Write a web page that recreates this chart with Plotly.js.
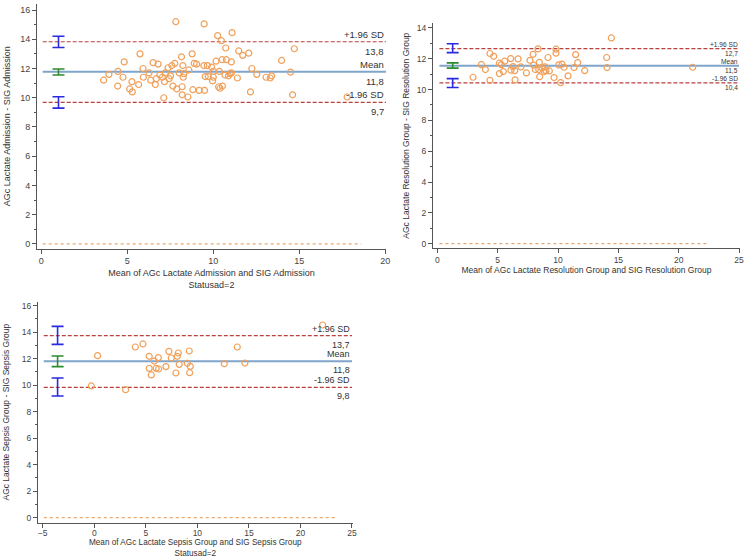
<!DOCTYPE html>
<html>
<head>
<meta charset="utf-8">
<script src="https://cdn.plot.ly/plotly-3.0.1.min.js"></script>
<style>html,body{margin:0;padding:0;background:#fff;}#chart{width:747px;height:559px;}</style>
</head>
<body>
<div id="chart"></div>
<script>
// ---------- Panel 1: Admission ----------
var p1x = [3.62,3.93,4.46,4.44,4.75,4.82,5.14,5.27,5.29,5.66,5.74,5.91,5.93,6.26,6.36,6.5,6.63,6.69,6.79,6.89,7.04,7.12,7.16,7.22,7.37,7.43,7.51,7.59,7.65,7.76,7.82,7.88,8.02,8.15,8.19,8.19,8.23,8.25,8.29,8.52,8.58,8.77,8.81,8.89,9.03,9.18,9.45,9.47,9.49,9.53,9.65,9.71,9.9,9.96,10.0,10.0,10.16,10.25,10.31,10.35,10.39,10.47,10.51,10.53,10.68,10.72,10.76,10.88,10.97,11.05,11.05,11.09,11.4,11.48,11.71,12.06,12.16,12.24,12.53,13.07,13.31,13.39,13.97,14.49,14.61,14.71,17.78];
var p1y = [11.2,11.6,11.8,10.8,11.4,12.45,10.6,11.1,10.4,10.9,13.0,12.0,11.4,11.7,11.2,12.4,10.9,11.3,12.3,11.55,11.4,10.0,11.1,11.7,12.05,11.3,11.5,12.2,10.8,12.35,15.2,10.6,11.7,12.8,10.75,10.2,12.2,11.4,11.65,10.05,11.9,13.0,10.55,12.35,12.3,10.5,12.2,15.05,10.5,11.45,12.2,11.45,12.1,11.15,11.8,11.4,12.5,14.25,10.75,11.8,10.65,13.9,12.6,10.8,11.55,13.4,12.6,11.5,11.65,11.7,12.45,14.45,11.35,13.2,12.9,13.05,10.4,12.0,11.6,11.4,11.35,11.5,12.55,11.75,10.2,13.35,10.05];
var p1Limits = [13.83, 11.78, 9.68];            // +1.96 SD, Mean, -1.96 SD
var p1CILow  = [13.44, 11.55, 9.29];
var p1CIHigh = [14.20, 11.96, 10.07];

// ---------- Panel 2: Resolution Group ----------
var p2x = [2.96,3.65,3.98,4.36,4.36,4.67,5.14,5.14,5.3,5.47,5.58,6.08,6.1,6.27,6.41,6.44,6.69,6.93,7.38,7.68,7.93,7.98,8.12,8.34,8.4,8.45,8.48,8.67,8.87,8.92,9.0,9.17,9.28,9.67,9.83,9.83,10.06,10.22,10.33,10.5,10.83,11.33,11.46,11.63,12.21,14.03,14.06,14.42,21.16];
var p2y = [10.8,11.62,11.3,12.34,10.6,12.16,11.71,11.04,11.62,11.17,11.84,12.01,11.26,11.49,11.23,10.63,11.99,11.47,11.08,11.9,12.29,11.58,11.3,12.64,11.3,11.77,10.84,11.41,11.17,11.47,11.23,12.08,11.21,10.78,12.62,12.36,11.6,10.45,11.65,11.45,10.89,11.43,12.27,11.75,11.23,12.08,11.43,13.35,11.45];
var p2Limits = [12.66, 11.54, 10.43];
var p2CILow  = [12.40, 11.39, 10.13];
var p2CIHigh = [12.97, 11.73, 10.71];

// ---------- Panel 3: Sepsis Group ----------
var p3x = [-0.29,0.32,3.04,3.98,4.72,5.33,5.33,5.53,5.82,6.01,6.21,6.24,6.95,7.24,7.47,7.92,8.05,8.15,8.24,9.02,9.21,9.31,9.25,12.61,13.87,14.61,22.15];
var p3y = [9.94,12.23,9.66,12.88,13.11,12.18,11.27,10.77,11.82,11.27,12.08,11.22,11.4,12.55,12.05,10.92,12.18,12.43,11.57,11.65,12.58,11.42,10.94,11.62,12.88,11.67,14.54];
var p3Limits = [13.74, 11.80, 9.84];
var p3CILow  = [13.08, 11.40, 9.18];
var p3CIHigh = [14.44, 12.20, 10.54];

var limitNames = ["+1.96 SD", "Mean", "-1.96 SD"];
var xTitles = ["Mean of AGc Lactate Admission and SIG Admission<br>Statusad=2",
               "Mean of AGc Lactate Resolution Group and SIG Resolution Group",
               "Mean of AGc Lactate Sepsis Group and SIG Sepsis Group<br>Statusad=2"];
var yTitles = ["AGc Lactate Admission - SIG Admission",
               "AGc Lactate Resolution Group - SIG Resolution Group",
               "AGc Lactate Sepsis Group - SIG Sepsis Group"];

// ---------- styling / layout geometry ----------
var FONT = "Liberation Sans, Arial, sans-serif";
var W = 747, H = 559;
var panels = [
  {x:p1x, y:p1y, lim:p1Limits, lo:p1CILow, hi:p1CIHigh, ciX:1.0,
   xr:[-0.25,20.04], yr:[-0.31,16.41], xd:[37,386], yd:[248.5,4], lineX:[0.08,20.04], zeroX:[0.08,18.6],
   xdt:5, x0:0, fs:9, tfs:9, lfs:9.5, ystand:8, xstand:4, tls:0, nameShift:0, valShift:-2, bpad:1},
  {x:p2x, y:p2y, lim:p2Limits, lo:p2CILow, hi:p2CIHigh, ciX:1.27,
   xr:[-0.36,25.08], yr:[-0.3,14.32], xd:[433,740], yd:[248.3,23], lineX:[0.17,25.0], zeroX:[0.17,22.3],
   xdt:5, x0:0, fs:8.5, tfs:8.5, lfs:6.6, ystand:5, xstand:3, tls:-1, nameShift:0, valShift:0, bpad:0},
  {x:p3x, y:p3y, lim:p3Limits, lo:p3CILow, hi:p3CIHigh, ciX:-3.56,
   xr:[-5.46,25.05], yr:[-0.38,16.3], xd:[38,352.5], yd:[522.7,301.7], lineX:[-4.9,25.0], zeroX:[-4.9,23.6],
   xdt:5, x0:-5, fs:8.5, tfs:8.2, lfs:9, ystand:10, xstand:1, tls:-2, nameShift:0, valShift:-2, bpad:1}
];

var traces = [];
var layout = {
  width: W, height: H,
  margin: {l:0, r:0, t:0, b:0},
  paper_bgcolor: "#fff", plot_bgcolor: "#fff",
  showlegend: false,
  font: {family: FONT, color: "#333"},
  annotations: []
};

panels.forEach(function(p, i){
  var n = i + 1;
  var xa = "x" + (n === 1 ? "" : n), ya = "y" + (n === 1 ? "" : n);
  var xk = "xaxis" + (n === 1 ? "" : n), yk = "yaxis" + (n === 1 ? "" : n);

  layout[xk] = {
    domain: [p.xd[0]/W, p.xd[1]/W], range: p.xr, anchor: ya,
    showgrid: false, zeroline: false, showline: true, linecolor: "#555", linewidth: 1,
    ticks: "outside", ticklen: 4, tickcolor: "#555", tick0: p.x0, dtick: p.xdt,
    ticklabelstandoff: p.tls,
    tickfont: {size: p.fs, color: "#444", family: FONT},
    title: {text: xTitles[i], font: {size: p.tfs, color: "#333", family: FONT}, standoff: p.xstand}
  };
  layout[yk] = {
    domain: [(H - p.yd[0])/H, (H - p.yd[1])/H], range: p.yr, anchor: xa,
    showgrid: false, zeroline: false, showline: true, linecolor: "#555", linewidth: 1,
    ticks: "outside", ticklen: 4, tickcolor: "#555", tick0: 0, dtick: 2,
    minor: {dtick: 1, ticks: "outside", ticklen: 2.5, tickcolor: "#555"},
    tickfont: {size: p.fs, color: "#444", family: FONT},
    title: {text: yTitles[i], font: {size: p.fs, color: "#333", family: FONT}, standoff: p.ystand}
  };

  // zero reference line (dotted)
  traces.push({type:"scatter", mode:"lines", x:p.zeroX, y:[0,0], xaxis:xa, yaxis:ya,
    line:{color:"#E9A66E", width:1.2, dash:"dot"}, hoverinfo:"skip"});

  // limit lines with their labels
  p.lim.forEach(function(v, k){
    var isMean = (k === 1);
    traces.push({type:"scatter", mode:"lines", x:p.lineX, y:[v, v], xaxis:xa, yaxis:ya,
      line: isMean ? {color:"#7FA5CB", width:2} : {color:"#B8423F", width:1.2, dash:"4px,2px"},
      hoverinfo:"skip"});
    layout.annotations.push({xref:xa, yref:ya, x:p.lineX[1], y:v, text:limitNames[k],
      xanchor:"right", yanchor:"bottom", yshift:p.nameShift, showarrow:false, borderpad:p.bpad,
      font:{size:p.lfs, color:"#333", family:FONT}});
    layout.annotations.push({xref:xa, yref:ya, x:p.lineX[1], y:v, text:v.toFixed(1).replace(".", ","),
      xanchor:"right", yanchor:"top", yshift:p.valShift, showarrow:false, borderpad:p.bpad,
      font:{size:p.lfs, color:"#333", family:FONT}});
  });

  // scatter points
  traces.push({type:"scatter", mode:"markers", x:p.x, y:p.y, xaxis:xa, yaxis:ya,
    marker:{symbol:"circle-open", size:6, color:"#F0A05A", line:{width:1.2, color:"#F0A05A"}}});

  // confidence interval bars
  p.lim.forEach(function(v, k){
    var col = (k === 1) ? "#2E8B2E" : "#2A2AE0";
    traces.push({type:"scatter", mode:"markers", x:[p.ciX], y:[v], xaxis:xa, yaxis:ya,
      marker:{size:1, color:"rgba(0,0,0,0)"},
      error_y:{type:"data", symmetric:false, array:[p.hi[k]-v], arrayminus:[v-p.lo[k]],
               color:col, thickness:1.6, width:6},
      hoverinfo:"skip"});
  });
});

Plotly.newPlot("chart", traces, layout, {staticPlot:true, displayModeBar:false});
</script>
</body>
</html>
